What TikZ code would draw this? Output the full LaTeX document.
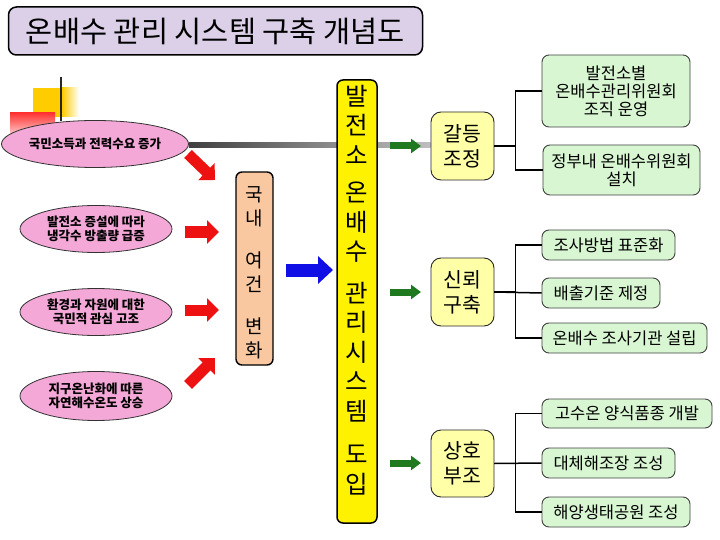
\documentclass[tikz,border=0pt]{standalone}
\usepackage{fontspec}
\setmainfont{Noto Sans CJK KR}
\usetikzlibrary{arrows.meta,shapes.geometric,backgrounds,calc}
\definecolor{lav}{HTML}{DCD0E8}
\definecolor{pinkell}{HTML}{F4A8D8}
\definecolor{peach}{HTML}{F9C8A0}
\definecolor{lyellow}{HTML}{FFFFA8}
\definecolor{lgreen}{HTML}{D8F6D2}
\definecolor{arred}{HTML}{EE1111}
\definecolor{arblue}{HTML}{1010E6}
\definecolor{argreen}{HTML}{1F7A1F}
\definecolor{gold}{HTML}{FFCC00}
\begin{document}
\begin{tikzpicture}[x=1pt,y=-1pt,
  titlebox/.style={draw=black, line width=1.5pt, rounded corners=8pt, fill=lav,
    minimum width=414pt, minimum height=48pt, inner sep=0pt, font=\fontsize{29.5}{32}\selectfont},
  ell/.style={ellipse, draw=black!80, line width=0.8pt, fill=pinkell, minimum width=152pt,
    minimum height=47pt, inner sep=0pt, align=center, font=\bfseries\fontsize{12.5}{14.5}\selectfont},
  peachbox/.style={draw=black, line width=1.4pt, rounded corners=6pt, fill=peach,
    minimum width=37pt, minimum height=193pt, inner sep=0pt, font=\fontsize{19}{24}\selectfont},
  mainbox/.style={draw=black, line width=1.5pt, rounded corners=6pt, fill=yellow,
    minimum width=40pt, minimum height=443pt, inner sep=0pt, font=\fontsize{24.5}{29.5}\selectfont},
  midbox/.style={draw=black!85, line width=0.9pt, rounded corners=10pt, fill=lyellow,
    minimum width=63pt, minimum height=68pt, inner sep=0pt, align=center, font=\fontsize{20.5}{25}\selectfont},
  leafbox/.style={draw=black!75, line width=0.9pt, rounded corners=7pt, fill=lgreen,
    minimum height=30pt, inner sep=0pt, align=center, font=\fontsize{16.5}{18}\selectfont},
  redarrow/.style={arred, line width=11pt, -{Triangle[length=12pt,width=23pt]}},
  bluearrow/.style={arblue, line width=13pt, -{Triangle[length=15pt,width=27pt]}},
  greenarrow/.style={argreen, line width=7pt, -{Triangle[length=10pt,width=14pt]}},
  conn/.style={draw=black, line width=1.5pt}
]
\useasboundingbox (0,0) rectangle (720,540);

% decoration top left
\fill[gold] (33,88) rectangle (62,117);
\shade[left color=gold, right color=white] (62,88) rectangle (79,117);
\shade[top color=red!80, bottom color=white] (10,113) rectangle (55,142);
\draw[line width=2pt, black!85] (61,77) -- (61,121);

% title
\node[titlebox] (title) at (215.5,31) {온배수 관리 시스템 구축 개념도};

% ellipses
\node[ell] (e1) at (95,144) {국민소득과 전력수요 증가};
\node[ell] (e2) at (96,229) {발전소 증설에 따라\\냉각수 방출량 급증};
\node[ell] (e3) at (96,312) {환경과 자원에 대한\\국민적 관심 고조};
\node[ell, minimum height=49pt] (e4) at (96,396) {지구온난화에 따른\\자연해수온도 상승};

% boxes
\node[peachbox] (kn) at (254.5,268.5) {\raisebox{-6pt}[\height][\depth]{\begin{tabular}{@{}c@{}}국\\내\\[18pt]여\\건\\[18pt]변\\화\end{tabular}}};
\node[mainbox] (mn) at (357,301.5) {\raisebox{8pt}[\height][\depth]{\begin{tabular}{@{}c@{}}발\\전\\소\\[8pt]온\\배\\수\\[12pt]관\\리\\시\\스\\템\\[14pt]도\\입\end{tabular}}};

\node[midbox] (g1) at (462.5,146) {갈등\\조정};
\node[midbox] (g2) at (462.5,292) {신뢰\\구축};
\node[midbox, minimum height=67pt] (g3) at (462.5,463.5) {상호\\부조};

\node[leafbox, minimum width=148pt, minimum height=72pt] (c11) at (616,91) {발전소별\\온배수관리위원회\\조직 운영};
\node[leafbox, minimum width=157pt, minimum height=50pt] (c12) at (621.5,170) {정부내 온배수위원회\\설치};
\node[leafbox, minimum width=133pt] (c21) at (608.5,245) {조사방법 표준화};
\node[leafbox, minimum width=118pt] (c22) at (601,293) {배출기준 제정};
\node[leafbox, minimum width=165pt] (c23) at (624.5,338) {온배수 조사기관 설립};
\node[leafbox, minimum width=170pt, minimum height=29pt] (c31) at (627,413.5) {고수온 양식품종 개발};
\node[leafbox, minimum width=133pt] (c32) at (608.5,463) {대체해조장 조성};
\node[leafbox, minimum width=148pt] (c33) at (616,512) {해양생태공원 조성};

% white page and gray background line
\begin{scope}[on background layer]
\fill[white] (0,0) rectangle (720,540);
\shade[left color=black!75, right color=black!25] ($(e1.east)+(0,-1.3)$) rectangle ($(g1.west)+(0,1.3)$);
\end{scope}

% arrow coordinates
\coordinate (r1s) at (188,154); \coordinate (r1e) at (215,180);
\coordinate (r2s) at (185,232); \coordinate (r2e) at (219,232);
\coordinate (r3s) at (185,310); \coordinate (r3e) at (219,310);
\coordinate (r4s) at (188,385); \coordinate (r4e) at (215,358);
\draw[redarrow] (r1s) -- (r1e);
\draw[redarrow] (r2s) -- (r2e);
\draw[redarrow] (r3s) -- (r3e);
\draw[redarrow] (r4s) -- (r4e);

\coordinate (bs) at (286,270); \coordinate (be) at (333,270);
\draw[bluearrow] (bs) -- (be);

\coordinate (gs1) at (390,146); \coordinate (ge1) at (421,146);
\coordinate (gs2) at (390,292); \coordinate (ge2) at (421,292);
\coordinate (gs3) at (390,463); \coordinate (ge3) at (421,463);
\draw[greenarrow] (gs1) -- (ge1);
\draw[greenarrow] (gs2) -- (ge2);
\draw[greenarrow] (gs3) -- (ge3);

% connectors
\draw[conn] (g1.east) -- ++(21,0) |- (c11.west);
\draw[conn] (g1.east) -- ++(21,0) |- (c12.west);
\draw[conn] (g2.east) -- ++(21,0) |- (c21.west);
\draw[conn] (g2.east) -- (c22.west);
\draw[conn] (g2.east) -- ++(21,0) |- (c23.west);
\draw[conn] (g3.east) -- ++(21,0) |- (c31.west);
\draw[conn] (g3.east) -- (c32.west);
\draw[conn] (g3.east) -- ++(21,0) |- (c33.west);
\end{tikzpicture}
\end{document}
